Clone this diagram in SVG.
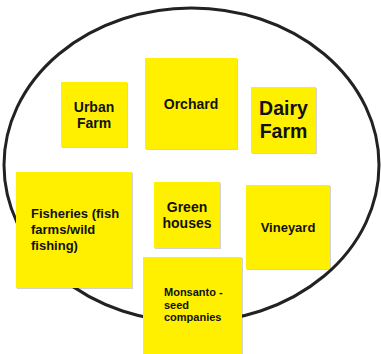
<svg xmlns="http://www.w3.org/2000/svg" width="381" height="354" viewBox="0 0 381 354">
<style>
.note{fill:#FFF000}
.shadow{fill:#000;opacity:0.18}
.t{font-family:"Liberation Sans",Arial,sans-serif;font-weight:bold;fill:#111}
.c{text-anchor:middle}
</style>
<rect width="381" height="354" fill="#fff"/>
<g id="boundary">
<ellipse cx="191.5" cy="165" rx="187.5" ry="157" fill="none" stroke="#222" stroke-width="3"/>
</g>
<g id="connectors"/>
<g id="urban-farm">
<rect class="shadow" x="62" y="83" width="66" height="65"/>
<rect class="note" x="61" y="82" width="66" height="65"/>
<text class="t c" x="94" y="112" font-size="14">Urban</text>
<text class="t c" x="94" y="128" font-size="14">Farm</text>
</g>
<g id="orchard">
<rect class="shadow" x="146" y="59" width="92" height="91"/>
<rect class="note" x="145" y="58" width="92" height="91"/>
<text class="t c" x="191" y="109" font-size="14">Orchard</text>
</g>
<g id="dairy-farm">
<rect class="shadow" x="252" y="88" width="65" height="66"/>
<rect class="note" x="251" y="87" width="65" height="66"/>
<text class="t c" x="283.5" y="115" font-size="19.5">Dairy</text>
<text class="t c" x="283.5" y="138" font-size="19.5">Farm</text>
</g>
<g id="fisheries">
<rect class="shadow" x="17" y="173" width="116" height="116"/>
<rect class="note" x="16" y="172" width="116" height="116"/>
<text class="t" x="31" y="218" font-size="13">Fisheries (fish</text>
<text class="t" x="31" y="234" font-size="13">farms/wild</text>
<text class="t" x="31" y="250" font-size="13">fishing)</text>
</g>
<g id="greenhouses">
<rect class="shadow" x="155" y="183" width="66" height="66"/>
<rect class="note" x="154" y="182" width="66" height="66"/>
<text class="t c" x="187" y="212" font-size="14">Green</text>
<text class="t c" x="187" y="228" font-size="14">houses</text>
</g>
<g id="vineyard">
<rect class="shadow" x="247" y="186" width="84" height="84"/>
<rect class="note" x="246" y="185" width="84" height="84"/>
<text class="t c" x="288" y="232" font-size="13">Vineyard</text>
</g>
<g id="monsanto">
<rect class="shadow" x="144" y="258" width="99" height="100"/>
<rect class="note" x="143" y="257" width="99" height="100"/>
<text class="t" x="164" y="296" font-size="11">Monsanto -</text>
<text class="t" x="164" y="309" font-size="11">seed</text>
<text class="t" x="164" y="321" font-size="11">companies</text>
</g>
</svg>
